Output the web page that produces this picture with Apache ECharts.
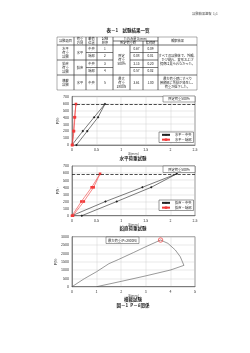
<!DOCTYPE html>
<html><head><meta charset="utf-8">
<script src="https://cdn.jsdelivr.net/npm/echarts@6/dist/echarts.min.js"></script>
<style>html,body{margin:0;padding:0;background:#fff}#c{width:250px;height:353px}</style>
</head><body><div id="c"></div>
<script>
// ---- data ----
const loadLevels = [0, 200, 400, 590, 400, 200, 0];
const hCenterD = [0, 0.22, 0.45, 0.67, 0.53, 0.31, 0.09];
const hEdgeD   = [0, 0.03, 0.05, 0.08, 0.06, 0.04, 0.01];
const vCenterD = [0, 0.68, 1.43, 2.13, 1.61, 0.91, 0.20];
const vEdgeD   = [0, 0.19, 0.40, 0.57, 0.44, 0.24, 0.02];
const latD = [0, 0.5, 1.0, 1.5, 1.9, 2.5, 3.0, 3.6, 3.9, 4.2, 4.4, 4.55, 4.0, 3.0, 2.0, 1.0];
const latP = [0, 480, 900, 1380, 1640, 2050, 2400, 2800, 2600, 2200, 1800, 1280, 1000, 650, 320, 0];
const peakD = [3.6], peakP = [2800];
const specLoad = 590;
const seriesNames = ['水平－中央', '水平－端部', '鉛直－中央', '鉛直－端部'];
const chartTitles = ['水平荷重試験', '鉛直荷重試験', '横載試験'];
const tableValLoad = ['0.67', '0.08', '2.13', '0.57', '3.61'];
const tableValUnload = ['0.09', '0.01', '0.20', '0.02', '1.00'];

const F = '"Noto Sans CJK JP", "Noto Sans", sans-serif';
const zip = (a, b) => a.map((v, i) => [v, b[i]]);

// ---- table geometry ----
const X = [57, 74, 86, 97, 113, 130, 143, 158, 197];
const Y = [37, 41, 45, 52.5, 60, 67.5, 75, 90];
const obs1 = 'すべての試験体で、外観、\nひび割れ、変形および\n損傷は見られなかった。';
const obs2 = '最大荷重時にすべり\n接続部に亀裂が発生し、\n荷重が低下した。';
const cells = [
  [0,1,0,2,'試験項目'],[1,2,0,2,'荷重\n方向'],[2,3,0,2,'載荷\n位置'],[3,4,0,2,'試験\n順序'],
  [4,7,0,1,'たわみ量 δ(mm)'],[4,6,1,2,'所定荷重時'],[6,7,1,2,'除荷時'],[7,8,0,2,'観察結果'],
  [0,1,2,4,'水平\n荷重\n試験'],[1,2,2,4,'水平'],[2,3,2,3,'中央'],[3,4,2,3,'1'],[4,5,2,6,'所定\n荷重\n500%'],
  [5,6,2,3,tableValLoad[0]],[6,7,2,3,tableValUnload[0]],[7,8,2,6,obs1],
  [2,3,3,4,'端部'],[3,4,3,4,'2'],[5,6,3,4,tableValLoad[1]],[6,7,3,4,tableValUnload[1]],
  [0,1,4,6,'鉛直\n荷重\n試験'],[1,2,4,6,'鉛直'],[2,3,4,5,'中央'],[3,4,4,5,'3'],[5,6,4,5,tableValLoad[2]],[6,7,4,5,tableValUnload[2]],
  [2,3,5,6,'端部'],[3,4,5,6,'4'],[5,6,5,6,tableValLoad[3]],[6,7,5,6,tableValUnload[3]],
  [0,1,6,7,'横載\n試験'],[1,2,6,7,'水平'],[2,3,6,7,'中央'],[3,4,6,7,'5'],[4,5,6,7,'最大\n荷重\n2800N'],
  [5,6,6,7,tableValLoad[4]],[6,7,6,7,tableValUnload[4]],[7,8,6,7,obs2]
];

const graphics = [];
cells.forEach(c => {
  const x0 = X[c[0]], x1 = X[c[1]], y0 = Y[c[2]], y1 = Y[c[3]];
  graphics.push({type:'rect', shape:{x:x0, y:y0, width:x1-x0, height:y1-y0},
    style:{fill:'none', stroke:'#333', lineWidth:0.4}, silent:true});
  graphics.push({type:'text', x:(x0+x1)/2, y:(y0+y1)/2,
    style:{text:c[4], font:'3.2px ' + F, fill:'#222', align:'center', verticalAlign:'middle',
      textAlign:'center', textVerticalAlign:'middle', lineHeight:3.9}, silent:true});
});

function txt(t, x, y, size, bold, color) {
  graphics.push({type:'text', x, y, style:{text:t, font:(bold?'bold ':'') + size + 'px ' + F,
    fill:color || '#222', align:'center', verticalAlign:'middle', textAlign:'center', textVerticalAlign:'middle'}, silent:true});
}
function box(t, x, y, w, h) {
  graphics.push({type:'rect', shape:{x, y, width:w, height:h}, style:{fill:'#fff', stroke:'#444', lineWidth:0.5}, silent:true, z:10});
  graphics.push({type:'text', x:x+w/2, y:y+h/2, z:11, style:{text:t, font:'3.3px ' + F, fill:'#222',
    align:'center', verticalAlign:'middle', textAlign:'center', textVerticalAlign:'middle'}, silent:true});
}
txt('試験結果速報  1/1', 205, 13.5, 3.2, false, '#444');
txt('表－1　試験結果一覧', 128, 30.5, 4.5, true);
txt(chartTitles[0], 133, 158.5, 4.5, true);
txt(chartTitles[1], 133, 228.5, 4.5, true);
txt(chartTitles[2], 133, 299.5, 4.5, true);
txt('図－1  P－δ関係', 133, 305.5, 4.5, true);
box('所定荷重500%', 163, 96, 32, 6);
box('所定荷重500%', 163, 166, 32, 6.5);
box('最大荷重(P=2800N)', 106, 237, 33, 6.5);

const grids = [
  {left:72, top:96.4, width:123, height:48.6},
  {left:72, top:166, width:123, height:49.7},
  {left:72, top:236.7, width:123, height:50}
].map(g => Object.assign(g, {show:true, borderColor:'#555', borderWidth:0.6, backgroundColor:'#fff', containLabel:false}));

const axisLabel = {fontSize:3.6, color:'#333', margin:3, fontFamily:F, formatter:v => String(v)};
const splitLine = {show:true, lineStyle:{color:'#c8c8c8', width:0.4}};
function xAx(i, max, interval) {
  return {type:'value', gridIndex:i, min:0, max, interval, axisLabel,
    axisLine:{show:true, lineStyle:{color:'#555', width:0.6}}, axisTick:{show:false}, splitLine,
    name:'δ(mm)', nameLocation:'middle', nameGap:7, nameTextStyle:{fontSize:3.4, color:'#333', fontFamily:F}};
}
function yAx(i, max, interval, gap) {
  return {type:'value', gridIndex:i, min:0, max, interval, axisLabel,
    axisLine:{show:true, lineStyle:{color:'#555', width:0.6}}, axisTick:{show:false}, splitLine,
    name:'P(N)', nameLocation:'middle', nameGap:gap, nameRotate:90, nameTextStyle:{fontSize:3.4, color:'#333', fontFamily:F}};
}
const markLine = {silent:true, symbol:['none','none'], label:{show:false},
  lineStyle:{type:'dashed', color:'#222', width:0.8}, data:[{yAxis:specLoad}]};

function lineSeries(name, idx, d, color, symbol, withMark) {
  const s = {name, type:'line', xAxisIndex:idx, yAxisIndex:idx, data:zip(d, loadLevels),
    symbol, symbolSize:2.6, lineStyle:{color, width:0.6}, itemStyle:{color}, animation:false};
  if (withMark) s.markLine = markLine;
  return s;
}
function legend(names, top) {
  return {data:names.map(n => ({name:n})), left:159, top, orient:'vertical', itemWidth:8, itemHeight:3,
    itemGap:1.5, padding:[1.2,2,1.2,2], borderColor:'#333', borderWidth:0.5, backgroundColor:'#fff',
    textStyle:{fontSize:3.3, color:'#222', fontFamily:F}};
}

const option = {
  animation:false,
  grid:grids,
  xAxis:[xAx(0,2.5,0.5), xAx(1,2.5,0.5), xAx(2,5,1)],
  yAxis:[yAx(0,700,100,9), yAx(1,700,100,9), yAx(2,3000,500,11)],
  legend:[legend(seriesNames.slice(0,2), 132), legend(seriesNames.slice(2,4), 200)],
  series:[
    lineSeries(seriesNames[0], 0, hCenterD, '#222', 'diamond', true),
    lineSeries(seriesNames[1], 0, hEdgeD, '#f23a3a', 'rect', false),
    lineSeries(seriesNames[2], 1, vCenterD, '#222', 'diamond', true),
    lineSeries(seriesNames[3], 1, vEdgeD, '#f23a3a', 'rect', false),
    {type:'line', xAxisIndex:2, yAxisIndex:2, data:zip(latD, latP), symbol:'none',
      lineStyle:{color:'#555', width:0.6}, animation:false},
    {type:'scatter', xAxisIndex:2, yAxisIndex:2, data:zip(peakD, peakP), symbol:'circle', symbolSize:4.5,
      itemStyle:{color:'rgba(255,80,80,0.15)', borderColor:'#e33', borderWidth:0.8}, z:5}
  ],
  graphic:graphics
};
const chart = echarts.init(document.getElementById('c'), null, {renderer:'canvas'});
chart.setOption(option);
</script></body></html>
